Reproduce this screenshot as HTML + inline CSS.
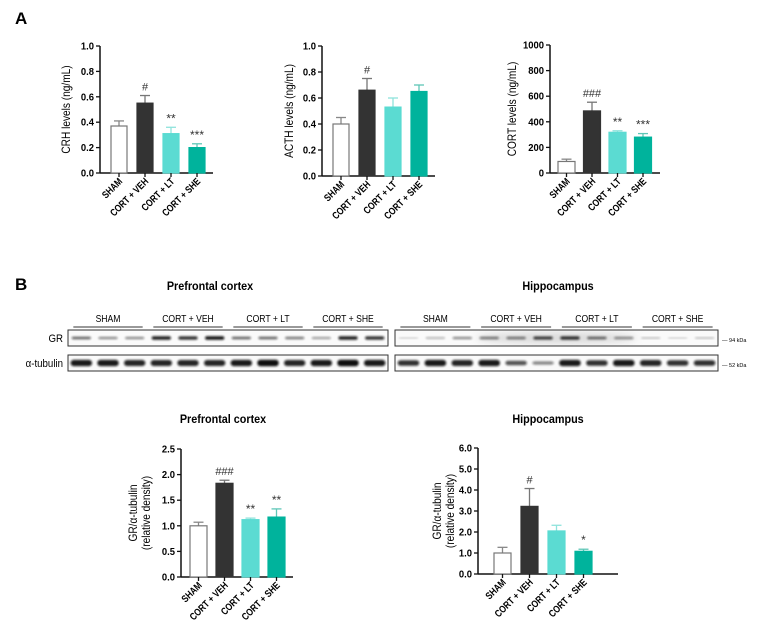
<!DOCTYPE html>
<html><head><meta charset="utf-8"><style>
html,body{margin:0;padding:0;background:#fff}
svg{display:block;font-family:"Liberation Sans",Arial,sans-serif}
</style></head><body>
<svg id="fig" width="758" height="636" viewBox="0 0 758 636" xmlns="http://www.w3.org/2000/svg">
<defs><filter id="blur" x="-20%" y="-100%" width="140%" height="300%"><feGaussianBlur stdDeviation="1.1"/></filter>
<filter id="blur2"><feGaussianBlur stdDeviation="4"/></filter></defs>
<text x="15" y="24" font-size="17" font-weight="bold">A</text>
<text x="15" y="290" font-size="17" font-weight="bold">B</text>
<g id="blots"></g>
</svg>
<script>
const categories = ["SHAM","CORT + VEH","CORT + LT","CORT + SHE"];
const crhValues = [0.37,0.55,0.31,0.20];
const crhErrors = [0.04,0.06,0.05,0.03];
const crhMarks = ["","#","**","***"];
const acthValues = [0.40,0.66,0.53,0.65];
const acthErrors = [0.05,0.09,0.07,0.05];
const acthMarks = ["","#","",""];
const cortValues = [90,485,318,280];
const cortErrors = [18,68,12,28];
const cortMarks = ["","###","**","***"];
const pfcValues = [1.0,1.83,1.12,1.17];
const pfcErrors = [0.07,0.06,0.03,0.16];
const pfcMarks = ["","###","**","**"];
const hipValues = [1.0,3.22,2.05,1.08];
const hipErrors = [0.27,0.85,0.27,0.1];
const hipMarks = ["","#","","*"];
const ticks01 = ["0.0","0.2","0.4","0.6","0.8","1.0"];
const ticksCort = ["0","200","400","600","800","1000"];
const ticksPfc = ["0.0","0.5","1.0","1.5","2.0","2.5"];
const ticksHip = ["0.0","1.0","2.0","3.0","4.0","5.0","6.0"];
const gr_pfc = [0.6,0.5,0.5,0.85,0.8,0.9,0.6,0.6,0.55,0.45,0.85,0.8];
const gr_hip = [0.25,0.35,0.5,0.55,0.55,0.75,0.8,0.6,0.5,0.3,0.25,0.3];
const tub_pfc = [0.95,0.95,0.9,0.9,0.9,0.9,0.95,1,0.9,0.95,1,0.95];
const tub_hip = [0.85,0.95,0.9,0.95,0.7,0.5,0.95,0.85,0.95,0.9,0.85,0.85];

const fills = ["#ffffff","#333333","#5bdbd2","#00b39c"];
const strokes = ["#777777","#333333","#5bdbd2","#00b39c"];
const errCols = ["#888888","#777777","#8fe3dc","#5fc7b7"];
const NS="http://www.w3.org/2000/svg";
const svg=document.getElementById('fig');
function mk(tag,attrs,parent,txt){const e=document.createElementNS(NS,tag);for(const k in attrs)e.setAttribute(k,attrs[k]);if(txt!==undefined)e.textContent=txt;(parent||svg).appendChild(e);return e;}

function chart(o){
  const g=mk('g',{});
  
  
  const maxV=parseFloat(o.ticks[o.ticks.length-1]);
  const y=v=>o.y0-(v/maxV)*(o.y0-o.y1);
  const x=i=>o.x0+o.off+i*o.pitch;
  const ya=mk('line',{x1:o.x0,y1:o.y1,x2:o.x0,y2:o.y0,stroke:'#111','stroke-width':1.5},g);
  
  
  const xa=mk('line',{x1:o.x0,y1:o.y0,x2:o.xEnd,y2:o.y0,stroke:'#111','stroke-width':1.5},g);
  
  
  o.ticks.forEach(t=>{
    const v=parseFloat(t), yy=y(v);
    mk('line',{x1:o.x0-4,y1:yy,x2:o.x0,y2:yy,stroke:'#111','stroke-width':1.3},g);
    const tx=o.x0-6, ty=yy+3.5;
    const tl=mk('text',{x:0,y:0,'font-size':10.5,'font-weight':'bold','text-anchor':'end',transform:`translate(${tx} ${ty}) scale(0.9 1)`},g,t);
    
    
  });
  o.vals.forEach((v,i)=>{
    const bx=x(i), top=y(v), et=y(v+o.errs[i]);
    const cx=bx+o.bw/2;
    mk('line',{x1:cx,y1:top,x2:cx,y2:et,stroke:errCols[i],'stroke-width':1.3},g);
    mk('line',{x1:cx-5,y1:et,x2:cx+5,y2:et,stroke:errCols[i],'stroke-width':1.3},g);
    const b=mk('rect',{x:bx,y:top,width:o.bw,height:o.y0-top,fill:fills[i],stroke:strokes[i],'stroke-width':1.2},g);
    
    
    if(o.marks[i]){
      const m=mk('text',{x:cx,y:et-5,'font-size':o.marks[i].includes('#')?11:12,'text-anchor':'middle',fill:'#333'},g,o.marks[i]);
      
      
    }
    mk('line',{x1:cx,y1:o.y0,x2:cx,y2:o.y0+4,stroke:'#111','stroke-width':1.3},g);
    const lx=cx+4, ly=o.y0+9;
    const c=mk('text',{x:0,y:0,'font-size':10,'font-weight':'bold','text-anchor':'end',transform:`translate(${lx} ${ly}) rotate(-45) scale(0.82 1)`},g,categories[i]);
    
    
  });
  const ty=(o.y0+o.y1)/2;
  o.ytitle.forEach((t,k)=>{
    const tx=o.tx+k*13;
    const yt=mk('text',{x:0,y:0,'font-size':11.5,'text-anchor':'middle',transform:`translate(${tx} ${ty}) rotate(-90) scale(0.88 1)`},g,t);
    
    
  });
  if(o.title){
    const tt=mk('text',{x:0,y:0,'font-size':12,'font-weight':'bold','text-anchor':'middle',transform:`translate(${o.titleX} ${o.titleY}) scale(0.9 1)`},g,o.title);
    
    
  }
}
chart({name:'crh-chart',x0:100,y0:173,y1:46,xEnd:213,off:11,pitch:26,bw:16,vals:crhValues,errs:crhErrors,marks:crhMarks,ticks:ticks01,ytitle:['CRH levels (ng/mL)'],tx:70});
chart({name:'acth-chart',x0:322,y0:176,y1:46,xEnd:435,off:11,pitch:26,bw:16,vals:acthValues,errs:acthErrors,marks:acthMarks,ticks:ticks01,ytitle:['ACTH levels (ng/mL)'],tx:293});
chart({name:'cort-chart',x0:550,y0:173,y1:45,xEnd:660,off:8,pitch:25.5,bw:17,vals:cortValues,errs:cortErrors,marks:cortMarks,ticks:ticksCort,ytitle:['CORT levels (ng/mL)'],tx:516});
chart({name:'pfc-gr-chart',x0:181,y0:577,y1:449,xEnd:293,off:9,pitch:26,bw:17,vals:pfcValues,errs:pfcErrors,marks:pfcMarks,ticks:ticksPfc,ytitle:['GR/α-tubulin','(relative density)'],tx:137,title:'Prefrontal cortex',titleX:223,titleY:423});
chart({name:'hippocampus-gr-chart',x0:478,y0:574,y1:448,xEnd:618,off:16,pitch:27,bw:17,vals:hipValues,errs:hipErrors,marks:hipMarks,ticks:ticksHip,ytitle:['GR/α-tubulin','(relative density)'],tx:441,title:'Hippocampus',titleX:548,titleY:423});

const bl=document.getElementById('blots');
function txt(a,t,name){const e=mk('text',a,bl,t);return e;}
txt({x:0,y:0,'font-size':12,'font-weight':'bold','text-anchor':'middle',transform:'translate(210 290) scale(0.9 1)'},'Prefrontal cortex','blot-title-pfc');
txt({x:0,y:0,'font-size':12,'font-weight':'bold','text-anchor':'middle',transform:'translate(558 290) scale(0.9 1)'},'Hippocampus','blot-title-hippocampus');
txt({x:0,y:0,'font-size':11,'text-anchor':'end',transform:'translate(63 342) scale(0.88 1)'},'GR','row-label-gr');
txt({x:0,y:0,'font-size':11,'text-anchor':'end',transform:'translate(63 367) scale(0.88 1)'},'α-tubulin','row-label-tubulin');
txt({x:722,y:342,'font-size':5.5},'— 94 kDa','mw-94');
txt({x:722,y:367,'font-size':5.5},'— 52 kDa','mw-52');
function blot(x0,x1,gr,tub,dark){
  const w=(x1-x0)/12;
  const r1=mk('rect',{x:x0,y:330,width:x1-x0,height:16,fill:'#fafafa',stroke:'#333','stroke-width':1},bl);
  
  
  const r2=mk('rect',{x:x0,y:355,width:x1-x0,height:16,fill:'#fafafa',stroke:'#333','stroke-width':1},bl);
  
  
  if(dark) mk('ellipse',{cx:x0+w*6,cy:338,rx:w*3,ry:6,fill:'#bbb',opacity:0.5,filter:'url(#blur2)'},bl);
  for(let i=0;i<12;i++){
    const cx=x0+w*(i+0.5);
    const b=mk('rect',{x:cx-w*0.36,y:338-gr[i]*2,width:w*0.72,height:gr[i]*4,rx:2,fill:'#111',opacity:Math.min(1,gr[i]*1.1),filter:'url(#blur)'},bl);
    
    
    const t=mk('rect',{x:cx-w*0.4,y:363-tub[i]*3.3,width:w*0.8,height:tub[i]*6.6,rx:3,fill:'#111',opacity:tub[i],filter:'url(#blur)'},bl);
    
    
  }
  categories.forEach((c,k)=>{
    const gx=x0+w*(3*k+1.5);
    txt({x:0,y:0,'font-size':10.5,'text-anchor':'middle',transform:`translate(${gx} 322) scale(0.82 1)`},c,'group-label');
    mk('line',{x1:gx-w*1.3,y1:327,x2:gx+w*1.3,y2:327,stroke:'#333','stroke-width':1},bl);
  });
}
blot(68,388,gr_pfc,tub_pfc,false);
blot(395,718,gr_hip,tub_hip,true);
</script>
</body></html>
